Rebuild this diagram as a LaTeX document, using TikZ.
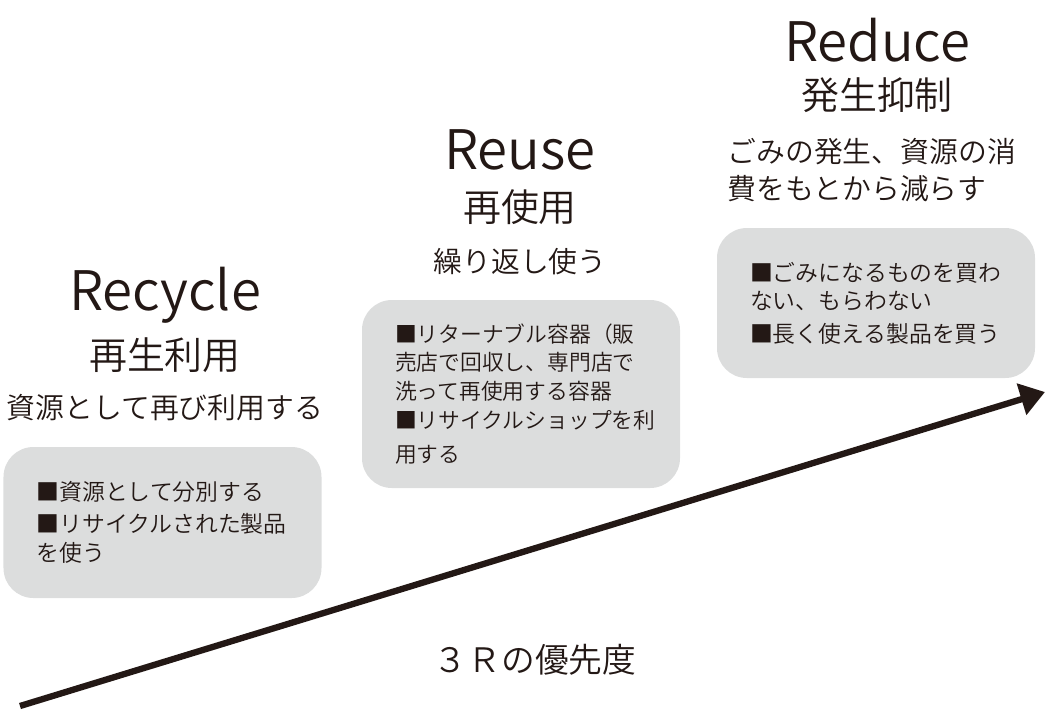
\documentclass[tikz,border=0pt]{standalone}
\usepackage{fontspec}
\setmainfont{Noto Sans CJK JP}[UprightFont=* DemiLight]
\usepackage{tikz}
\usetikzlibrary{arrows.meta, positioning}
\definecolor{ink}{HTML}{231815}
\definecolor{cardgray}{HTML}{DCDDDD}
\tikzset{
  title/.style={text=ink, font=\fontsize{15.5pt}{18pt}\selectfont},
  jname/.style={text=ink, font=\fontsize{10.8pt}{13pt}\selectfont},
  lead/.style={text=ink, font=\fontsize{8.2pt}{10.4pt}\selectfont},
  card/.style={rectangle, fill=cardgray, rounded corners=8.5pt,
               text width=2.52cm, inner xsep=0.33cm, align=left,
               text=ink, font=\fontsize{6.5pt}{8.2pt}\selectfont},
  prio/.style={text=ink, font=\fontsize{9.6pt}{12pt}\selectfont},
  arrow/.style={-{Triangle[length=7pt, width=9pt]}, line width=1.8pt, draw=ink},
}
\begin{document}
\begin{tikzpicture}

  \useasboundingbox (0,0) rectangle (10.48,7.09);

  % Recycle
  \node[title] (recycle)     at (1.65, 4.14) {Recycle};
  \node[jname] (recycleJa)   at (1.65, 3.54) {再生利用};
  \node[lead]  (recycleLead) at (1.65, 3.01) {資源として再び利用する};
  \node[card, minimum height=1.51cm] (recycleBox) at (1.625, 1.865)
    {■資源として分別する\\[1pt]
     ■リサイクルされた製品\\
     を使う};

  % Reuse
  \node[title] (reuse)     at (5.20, 5.59) {Reuse};
  \node[jname] (reuseJa)   at (5.20, 5.02) {再使用};
  \node[lead]  (reuseLead) at (5.20, 4.47) {繰り返し使う};
  \node[card, minimum height=1.88cm, font=\fontsize{6.2pt}{8.2pt}\selectfont]
    (reuseBox) at (5.21, 3.15)
    {■リターナブル容器（販\\
     売店で回収し、専門店で\\
     洗って再使用する容器\\
     ■リサイクルショップを利\\[1.5pt]
     用する};

  % Reduce
  \node[title] (reduce)   at (8.77, 6.69) {Reduce};
  \node[jname] (reduceJa) at (8.77, 6.14) {発生抑制};
  \node[lead, anchor=west, inner sep=0, align=left] (reduceLead) at (7.27, 5.39)
    {ごみの発生、資源の消\\費をもとから減らす};
  \node[card, minimum height=1.50cm] (reduceBox) at (8.76, 4.06)
    {■ごみになるものを買わ\\
     ない、もらわない\\[1pt]
     ■長く使える製品を買う};

  % Priority arrow
  \coordinate (low)  at (0.20, 0.03);
  \coordinate (high) at (10.45, 3.17);
  \draw[arrow] (low) -- (high);
  \node[prio] (priority) at (5.35, 0.49) {３Ｒの優先度};

\end{tikzpicture}
\end{document}
